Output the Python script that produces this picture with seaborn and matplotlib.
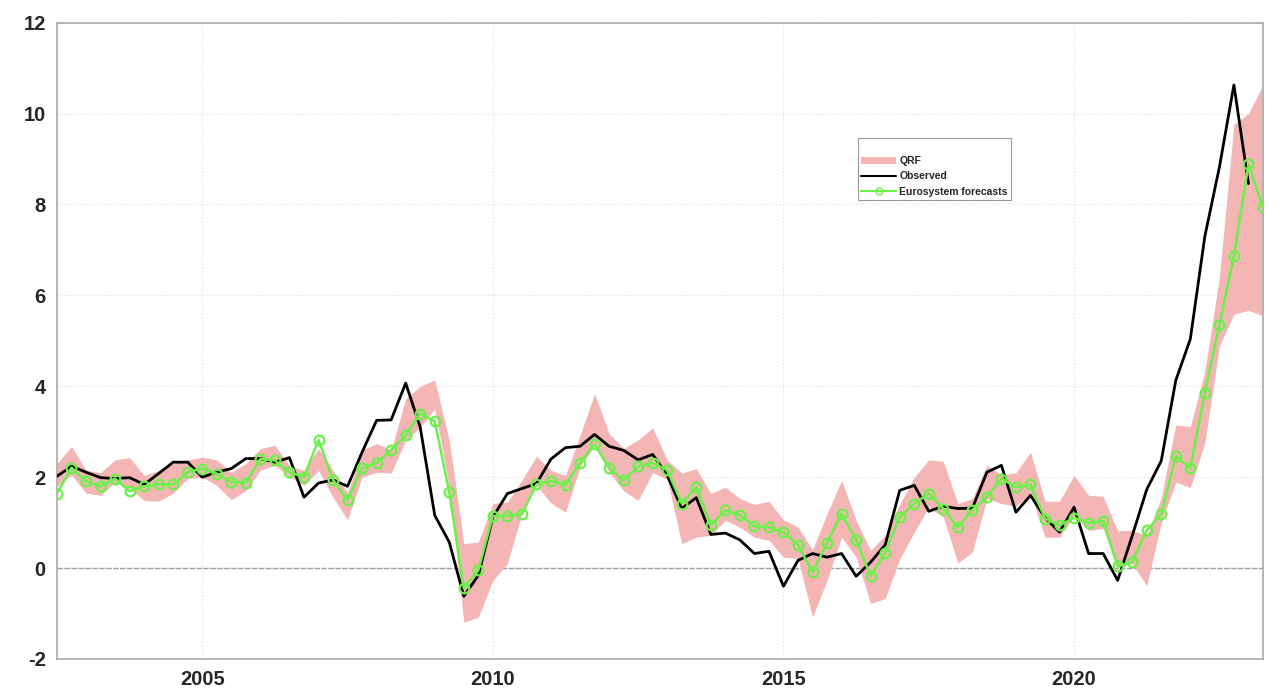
import numpy as np
import pandas as pd
import matplotlib
matplotlib.use("Agg")
import matplotlib.pyplot as plt
import seaborn as sns
from matplotlib.patches import Patch
from matplotlib.lines import Line2D

# ----------------------------------------
# Data (quarterly, 2002Q3 - 2023Q2)
# ----------------------------------------
quarters = pd.period_range("2002Q3", "2023Q2", freq="Q")
time_index = quarters.year + (quarters.quarter - 1) / 4

observed = [
    2.02, 2.24, 2.11, 1.99, 1.97, 1.99, 1.84, 2.08, 2.33, 2.33,
    2.00, 2.11, 2.19, 2.41, 2.41, 2.33, 2.43, 1.56, 1.87, 1.94,
    1.80, 2.55, 3.25, 3.26, 4.07, 3.10, 1.16, 0.57, -0.62, -0.16,
    1.12, 1.64, 1.75, 1.86, 2.40, 2.65, 2.68, 2.94, 2.68, 2.59,
    2.38, 2.50, 2.04, 1.31, 1.55, 0.74, 0.77, 0.62, 0.32, 0.37,
    -0.40, 0.17, 0.32, 0.24, 0.32, -0.18, 0.13, 0.51, 1.71, 1.82,
    1.25, 1.36, 1.31, 1.32, 2.11, 2.26, 1.23, 1.60, 1.11, 0.79,
    1.34, 0.32, 0.32, -0.27, 0.71, 1.73, 2.36, 4.13, 5.04, 7.30,
    8.82, 10.63, 8.46, np.nan,
]

eurosystem = [
    1.64, 2.21, 1.91, 1.80, 1.97, 1.69, 1.80, 1.84, 1.84, 2.11,
    2.19, 2.08, 1.89, 1.88, 2.40, 2.37, 2.11, 2.00, 2.82, 1.94,
    1.50, 2.20, 2.31, 2.60, 2.92, 3.40, 3.23, 1.67, -0.44, -0.05,
    1.15, 1.15, 1.19, 1.84, 1.92, 1.83, 2.31, 2.72, 2.21, 1.93,
    2.24, 2.31, 2.16, 1.42, 1.78, 0.94, 1.27, 1.17, 0.92, 0.90,
    0.79, 0.51, -0.09, 0.55, 1.20, 0.62, -0.18, 0.34, 1.12, 1.42,
    1.64, 1.31, 0.90, 1.28, 1.56, 1.97, 1.78, 1.84, 1.09, 0.94,
    1.11, 0.99, 1.04, 0.04, 0.13, 0.83, 1.18, 2.46, 2.20, 3.86,
    5.34, 6.87, 8.88, 7.95,
]

qrf_upper = [
    2.30, 2.68, 2.15, 2.10, 2.38, 2.43, 2.04, 2.15, 2.30, 2.38,
    2.44, 2.38, 2.11, 2.30, 2.63, 2.70, 2.25, 2.15, 2.63, 2.15,
    1.65, 2.60, 2.74, 2.60, 3.72, 4.00, 4.14, 2.81, 0.54, 0.57,
    1.42, 1.45, 1.93, 2.46, 2.15, 2.04, 2.92, 3.84, 2.96, 2.63,
    2.82, 3.09, 2.37, 2.09, 2.19, 1.64, 1.78, 1.53, 1.40, 1.47,
    1.06, 0.90, 0.40, 1.20, 1.93, 1.05, 0.39, 0.72, 1.40, 2.00,
    2.38, 2.35, 1.42, 1.53, 2.26, 2.05, 2.10, 2.55, 1.47, 1.47,
    2.04, 1.60, 1.58, 0.82, 0.83, 0.72, 1.55, 3.15, 3.11, 4.33,
    6.40, 9.76, 10.00, 10.63,
]

qrf_lower = [
    1.80, 2.05, 1.65, 1.60, 1.89, 1.75, 1.49, 1.47, 1.65, 1.97,
    2.00, 1.82, 1.50, 1.71, 2.15, 2.26, 2.02, 1.82, 2.15, 1.56,
    1.06, 2.00, 2.11, 2.09, 2.81, 3.10, 3.50, 1.78, -1.19, -1.08,
    -0.27, 0.10, 1.20, 1.82, 1.43, 1.23, 2.22, 2.70, 2.11, 1.70,
    1.49, 2.10, 1.95, 0.54, 0.68, 0.72, 1.05, 0.90, 0.68, 0.61,
    0.24, 0.21, -1.08, -0.27, 0.68, 0.24, -0.78, -0.67, 0.20, 0.79,
    1.34, 1.12, 0.11, 0.35, 1.53, 1.42, 1.36, 1.64, 0.68, 0.68,
    1.16, 0.83, 0.87, 0.00, 0.10, -0.39, 1.00, 1.89, 1.77, 2.76,
    4.88, 5.59, 5.67, 5.55,
]

year_ticks = [2005, 2010, 2015, 2020]
value_ticks = [-2, 0, 2, 4, 6, 8, 10, 12]

df = pd.DataFrame({
    "time": time_index,
    "observed": observed,
    "eurosystem": eurosystem,
    "lower": qrf_lower,
    "upper": qrf_upper,
})

# ----------------------------------------
# Style
# ----------------------------------------
sns.set_style("white")
plt.rcParams["font.family"] = ["Liberation Sans", "DejaVu Sans"]
plt.rcParams["axes.unicode_minus"] = False

band_color = "#F4B6B4"
green = "#6CF04A"
axis_gray = "#B0B0B0"

fig = plt.figure(figsize=(12.8, 6.98), dpi=100)
ax = fig.add_axes([0.0445, 0.0559, 0.9422, 0.9116])

# QRF band
ax.fill_between(df["time"], df["lower"], df["upper"],
                color=band_color, linewidth=0, zorder=2)

# zero line
ax.axhline(0, color="#A0A0A0", linewidth=1.0, linestyle=(0, (4, 1)), zorder=1)

# Observed
sns.lineplot(data=df, x="time", y="observed", ax=ax, color="black",
             linewidth=2.0, zorder=3)

# Eurosystem forecasts
sns.lineplot(data=df, x="time", y="eurosystem", ax=ax, color=green,
             linewidth=1.8, marker="o", markersize=7, markerfacecolor="none",
             markeredgecolor=green, markeredgewidth=1.6, zorder=4)

ax.set_xlim(df["time"].min(), df["time"].max())
ax.set_ylim(-2, 12)
ax.set_xticks(year_ticks)
ax.set_yticks(value_ticks)
ax.set_xlabel("")
ax.set_ylabel("")

ax.grid(True, color="#E2E2E2", linestyle=":", linewidth=0.9)
ax.set_axisbelow(True)

for s in ax.spines.values():
    s.set_visible(True)
    s.set_color(axis_gray)
    s.set_linewidth(1.3)

ax.tick_params(direction="in", length=8, width=1.0, color="#A0A0A0",
               labelsize=14.5, labelcolor="#262626", pad=8,
               top=False, right=False)
for lab in ax.get_xticklabels() + ax.get_yticklabels():
    lab.set_fontweight("bold")

# Legend
handles = [
    Patch(facecolor=band_color, edgecolor="none"),
    Line2D([], [], color="black", linewidth=1.5),
    Line2D([], [], color=green, linewidth=1.5, marker="o", markersize=5,
           markerfacecolor="none", markeredgecolor=green),
]
labels = ["QRF", "Observed", "Eurosystem forecasts"]
leg = ax.legend(handles, labels, loc="upper left",
                bbox_to_anchor=(0.664, 0.819), frameon=True, fancybox=False,
                edgecolor="#9A9A9A", framealpha=1, title=" ",
                title_fontsize=8, handlelength=3.4, handletextpad=0.3,
                labelspacing=0.5, borderpad=0.3, borderaxespad=0,
                prop={"weight": "bold", "size": 7.5})
leg.get_frame().set_linewidth(0.8)
leg._legend_box.align = "left"

fig.savefig("out.png", dpi=100)
